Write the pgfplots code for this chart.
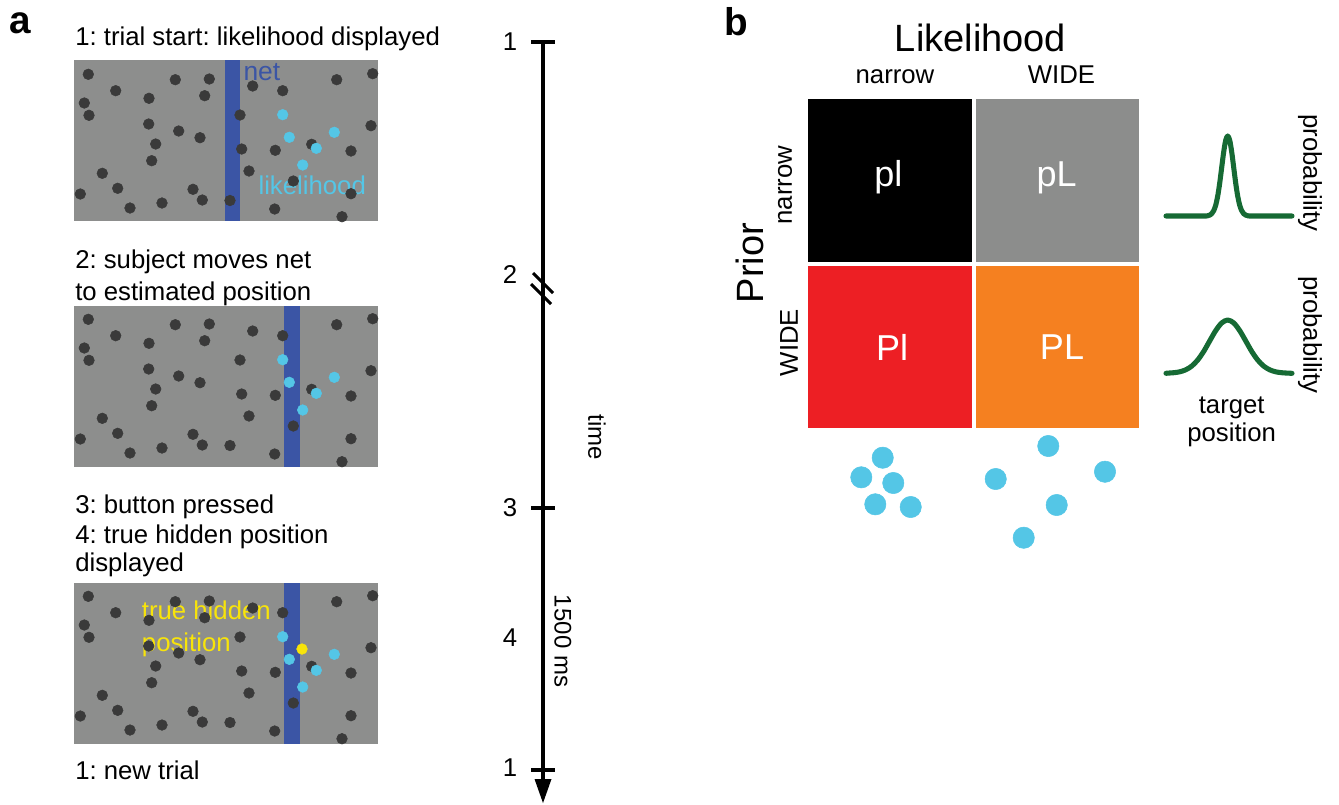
\documentclass[border=0pt]{standalone}
\usepackage{pgfplots}
\pgfplotsset{compat=1.18}
\usepackage{pgfplotstable}
\usepackage{fontspec}
\setmainfont{Liberation Sans}
\frenchspacing
\definecolor{pgray}{RGB}{141,142,141}
\definecolor{dotc}{RGB}{58,58,58}
\definecolor{netblue}{RGB}{59,85,165}
\definecolor{cyanc}{RGB}{84,198,230}
\definecolor{yel}{RGB}{248,228,10}
\definecolor{bred}{RGB}{237,31,36}
\definecolor{borange}{RGB}{245,128,32}
\definecolor{bgray}{RGB}{140,141,140}
\definecolor{gr}{RGB}{22,106,52}
\newcommand\fs{\fontsize{19.3}{23}\selectfont}
\newcommand\fbig{\fontsize{28.5}{32}\selectfont}
\newcommand\fmid{\fontsize{27}{30}\selectfont}
\newcommand\fsm{\fontsize{18}{21}\selectfont}

% dark dots of the display (panel 1 coordinates, image pixels)
\pgfplotstableread{
x y
88.3 74.3
115.7 90.7
84.3 103
89 115.3
149 98.3
175.3 79.7
209.3 79
204.7 95.7
148.7 124
178.7 131
200 137.7
155.7 144
151.7 160.7
102.3 173.3
117.7 188.3
80.3 194
193 189.3
202.3 200
130 208
162 203
230 200.5
252.7 86
282.7 90.7
240 115
241.7 149
275.3 150.3
249 171
311.7 144.3
293.3 181
351 151
351 193.7
336.7 79.7
372.7 73.7
371 125.7
274.7 209
342 216.7
}\darkdots

% likelihood (cyan) dots, panel 1 coordinates
\pgfplotstableread{
x y
282.7 114.7
289.3 137.3
316.3 148.3
302.7 165
334.3 132.3
}\likedots

% panel b dots
\pgfplotstableread{
x y
882.7 457.7
861.3 477.3
893.3 483
875.3 504.3
910.7 507
}\narrowdots
\pgfplotstableread{
x y
1048.3 446
995.7 479
1105 471.7
1056.7 505
1023.7 537.7
}\widedots

% prior curves
\pgfplotstableread{
x y
1166 216
1203.7 216
1207.7 215.7
1209.7 215.1
1211.7 213.7
1213.7 210.7
1215.7 205.2
1217.7 196.1
1219.7 183.1
1221.7 167.4
1223.7 151.9
1225.7 140.3
1227.7 136
1229.7 140.3
1231.7 151.9
1233.7 167.4
1235.7 183.1
1237.7 196.1
1239.7 205.2
1241.7 210.7
1243.7 213.7
1245.7 215.1
1247.7 215.7
1251.7 216
1292 216
}\narrowprior
\pgfplotstableread{
x y
1166 373.3
1167.7 373.1
1173.7 372.7
1179.7 371.8
1185.7 369.8
1191.7 366.1
1197.7 360
1203.7 351.4
1209.7 340.9
1215.7 330.6
1221.7 322.9
1227.7 320
1233.7 322.9
1239.7 330.6
1245.7 340.9
1251.7 351.4
1257.7 360
1263.7 366.1
1269.7 369.8
1275.7 371.8
1281.7 372.7
1287.7 373.1
1292 373.3
}\wideprior

\begin{document}
\begin{tikzpicture}
\begin{axis}[width=1004.25pt,height=603pt,scale only axis,hide axis,
  xmin=0,xmax=1339,ymin=0,ymax=804,y dir=reverse,clip=false,
  rect/.style={draw=none,mark=none},
  dots/.style={only marks,mark=*,mark size=4pt,color=#1},
  bigdots/.style={only marks,mark=*,mark size=8pt,color=#1}]
\path (axis cs:0,0) rectangle (axis cs:1339,804);

% ---------- panel a: gray displays ----------
\addplot[rect,fill=pgray] coordinates {(74,60) (378,60) (378,221) (74,221)} -- cycle;
\addplot[rect,fill=pgray] coordinates {(74,306) (378,306) (378,467) (74,467)} -- cycle;
\addplot[rect,fill=pgray] coordinates {(74,583) (378,583) (378,744) (74,744)} -- cycle;

\addplot[dots=dotc] table[x=x,y=y] {\darkdots};
\addplot[dots=dotc] table[x=x,y expr=\thisrow{y}+245] {\darkdots};
\addplot[dots=dotc] table[x=x,y expr=\thisrow{y}+522] {\darkdots};

% nets
\addplot[rect,fill=netblue] coordinates {(225,60) (240.3,60) (240.3,221) (225,221)} -- cycle;
\addplot[rect,fill=netblue] coordinates {(284.3,306) (300,306) (300,467) (284.3,467)} -- cycle;
\addplot[rect,fill=netblue] coordinates {(284.3,583) (300,583) (300,744) (284.3,744)} -- cycle;

\addplot[dots=cyanc] table[x=x,y=y] {\likedots};
\addplot[dots=cyanc] table[x=x,y expr=\thisrow{y}+245] {\likedots};
\addplot[dots=cyanc] table[x=x,y expr=\thisrow{y}+522] {\likedots};
\addplot[dots=yel] coordinates {(302,649)};

\node[anchor=base west,font=\fontsize{19.8}{23}\selectfont,text=netblue,inner sep=0pt] at (axis cs:243.3,80) {net};
\node[anchor=base west,font=\fs,text=cyanc,inner sep=0pt] at (axis cs:258.3,194.3) {likelihood};
\node[anchor=base west,font=\fs,text=yel,inner sep=0pt] at (axis cs:141.7,619.7) {true hidden};
\node[anchor=base west,font=\fs,text=yel,inner sep=0pt] at (axis cs:141.7,651.3) {position};

% step texts
\node[anchor=base west,font=\fontsize{29}{32}\selectfont\bfseries,inner sep=0pt] at (axis cs:9,33.5) {a};
\node[anchor=base west,font=\fontsize{29}{32}\selectfont\bfseries,inner sep=0pt] at (axis cs:724,35.5) {b};
\node[anchor=base west,font=\fs,inner sep=0pt] at (axis cs:75,45) {1: trial start: likelihood displayed};
\node[anchor=base west,font=\fs,inner sep=0pt] at (axis cs:75,268.3) {2: subject moves net};
\node[anchor=base west,font=\fs,inner sep=0pt] at (axis cs:75,300) {to estimated position};
\node[anchor=base west,font=\fs,inner sep=0pt] at (axis cs:75,513.3) {3: button pressed};
\node[anchor=base west,font=\fs,inner sep=0pt] at (axis cs:75,543.3) {4: true hidden position};
\node[anchor=base west,font=\fs,inner sep=0pt] at (axis cs:75,571.7) {displayed};
\node[anchor=base west,font=\fs,inner sep=0pt] at (axis cs:75,779) {1: new trial};

% ---------- timeline ----------
\addplot[mark=none,black,line width=2.6pt] coordinates {(543,40.7) (543,784)};
\addplot[mark=none,black,line width=2.4pt] coordinates {(531,42) (555,42)};
\addplot[mark=none,black,line width=2.4pt] coordinates {(531,508) (555,508)};
\addplot[mark=none,black,line width=2.4pt] coordinates {(531,770) (555,770)};
\addplot[mark=none,black,line width=2.2pt] coordinates {(533,273) (553,293)};
\addplot[mark=none,black,line width=2.2pt] coordinates {(531,284) (551,304)};
\addplot[rect,fill=black] coordinates {(534.5,779) (551.5,779) (543,803)} -- cycle;

\node[font=\fs] at (axis cs:510,42) {1};
\node[font=\fs] at (axis cs:510,275) {2};
\node[font=\fs] at (axis cs:510,508) {3};
\node[font=\fs] at (axis cs:510,638) {4};
\node[font=\fs] at (axis cs:510,768) {1};
\node[font=\fsm,rotate=-90] at (axis cs:597,437) {time};
\node[font=\fsm,rotate=-90] at (axis cs:563,641) {1500 ms};

% ---------- panel b ----------
\addplot[rect,fill=black] coordinates {(808.3,99.3) (971.7,99.3) (971.7,262.3) (808.3,262.3)} -- cycle;
\addplot[rect,fill=bgray] coordinates {(976,99.3) (1138.7,99.3) (1138.7,262.3) (976,262.3)} -- cycle;
\addplot[rect,fill=bred] coordinates {(808.3,266) (971.7,266) (971.7,428.3) (808.3,428.3)} -- cycle;
\addplot[rect,fill=borange] coordinates {(976,266) (1138.7,266) (1138.7,428.3) (976,428.3)} -- cycle;

\node[font=\fmid,text=white] at (axis cs:888.3,177.5) {pl};
\node[font=\fmid,text=white] at (axis cs:1056.7,178.3) {pL};
\node[font=\fmid,text=white] at (axis cs:892,347.5) {Pl};
\node[font=\fmid,text=white] at (axis cs:1062,347.5) {PL};

\node[anchor=base,font=\fbig,inner sep=0pt] at (axis cs:980.5,51.7) {Likelihood};
\node[anchor=base,font=\fs,inner sep=0pt] at (axis cs:895,83.3) {narrow};
\node[anchor=base,font=\fs,inner sep=0pt] at (axis cs:1061.5,83.3) {WIDE};
\node[font=\fbig,rotate=90,inner sep=0pt] at (axis cs:750,263) {Prior};
\node[font=\fs,rotate=90,inner sep=0pt] at (axis cs:785,185) {narrow};
\node[font=\fs,rotate=90,inner sep=0pt] at (axis cs:789,342.5) {WIDE};

\addplot[bigdots=cyanc] table[x=x,y=y] {\narrowdots};
\addplot[bigdots=cyanc] table[x=x,y=y] {\widedots};

\addplot[mark=none,gr,line width=3.8pt,smooth,line join=round,line cap=round] table[x=x,y=y] {\narrowprior};
\addplot[mark=none,gr,line width=3.8pt,smooth,line join=round,line cap=round] table[x=x,y=y] {\wideprior};

\node[font=\fs,rotate=-90,inner sep=0pt] at (axis cs:1310,173) {probability};
\node[font=\fs,rotate=-90,inner sep=0pt] at (axis cs:1310,335) {probability};
\node[anchor=base,font=\fs,inner sep=0pt] at (axis cs:1231.7,413.3) {target};
\node[anchor=base,font=\fs,inner sep=0pt] at (axis cs:1231.7,441.7) {position};
\end{axis}
\end{tikzpicture}
\end{document}
